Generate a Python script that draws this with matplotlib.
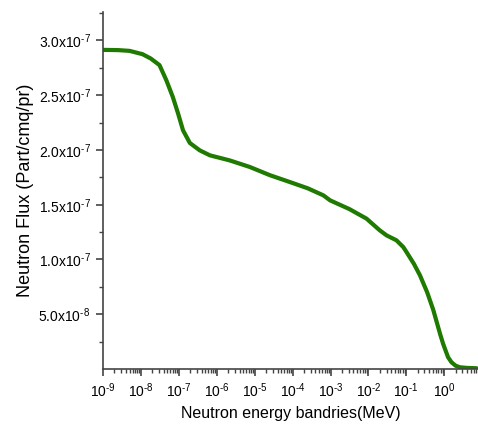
import numpy as np
import matplotlib
matplotlib.use('Agg')
import matplotlib.pyplot as plt
from matplotlib.ticker import FixedLocator, LogLocator, NullFormatter

plt.rcParams['font.family'] = ['Liberation Sans', 'DejaVu Sans']
plt.rcParams['mathtext.fontset'] = 'custom'
plt.rcParams['mathtext.rm'] = 'Liberation Sans'
plt.rcParams['mathtext.it'] = 'Liberation Sans'

# log10 of energy (MeV) and the flux at that energy
log_energy = [-9.0, -8.6, -8.3, -7.96, -7.74, -7.51, -7.33, -7.16, -7.02, -6.89,
              -6.71, -6.45, -6.18, -5.66, -5.13, -4.6, -4.07, -3.6, -3.19, -3.01,
              -2.5, -2.05, -1.7, -1.52, -1.26, -1.08, -0.99, -0.8, -0.64, -0.45,
              -0.29, -0.11, -0.03, 0.1, 0.19, 0.3, 0.41, 0.6, 0.85]
flux = [2.914e-7, 2.912e-7, 2.905e-7, 2.875e-7, 2.835e-7, 2.775e-7, 2.637e-7,
        2.485e-7, 2.333e-7, 2.18e-7, 2.064e-7, 1.997e-7, 1.951e-7, 1.905e-7,
        1.845e-7, 1.77e-7, 1.707e-7, 1.65e-7, 1.586e-7, 1.54e-7, 1.46e-7, 1.373e-7,
        1.266e-7, 1.22e-7, 1.175e-7, 1.113e-7, 1.065e-7, 0.96e-7, 0.855e-7, 0.70e-7,
        0.54e-7, 0.32e-7, 0.23e-7, 0.108e-7, 0.062e-7, 0.03e-7, 0.016e-7, 0.01e-7,
        0.007e-7]

energy = 10.0 ** np.array(log_energy)


def sup(base, exp):
    # hyphen instead of the math minus in the exponent
    sign = r'\text{-}' if exp < 0 else ''
    return r'$\mathregular{%s^{%s%d}}$' % (base, sign, abs(exp))


yticks = [5e-8, 1e-7, 1.5e-7, 2e-7, 2.5e-7, 3e-7]
ytick_labels = [sup('5.0x10', -8), sup('1.0x10', -7), sup('1.5x10', -7),
                sup('2.0x10', -7), sup('2.5x10', -7), sup('3.0x10', -7)]
xticks = [10.0 ** k for k in range(-9, 1)]
xtick_labels = [sup('10', k) for k in range(-9, 1)]

fig = plt.figure(figsize=(4.78, 4.24), dpi=100)
ax = fig.add_axes([0.2155, 0.1297, 0.7845, 0.842])

ax.plot(energy, flux, color='#1e7a00', lw=3.0, solid_capstyle='round',
        solid_joinstyle='round')

ax.set_xscale('log')
ax.set_xlim(1e-9, 10 ** 0.89)
ax.set_ylim(0, 3.26e-7)

ax.set_xticks(xticks)
ax.set_xticklabels(xtick_labels, fontsize=10)
ax.xaxis.set_minor_locator(LogLocator(base=10, subs=np.arange(2, 10), numticks=100))
ax.xaxis.set_minor_formatter(NullFormatter())

ax.set_yticks(yticks)
ax.set_yticklabels(ytick_labels, fontsize=10)
ax.yaxis.set_minor_locator(FixedLocator(np.arange(0.25e-7, 3.26e-7, 0.5e-7)))

ax.spines['top'].set_visible(False)
ax.spines['right'].set_visible(False)
for s in ('left', 'bottom'):
    ax.spines[s].set_color('#444444')
    ax.spines[s].set_linewidth(1.2)

ax.tick_params(which='major', direction='out', length=5, width=1.2, color='#444444', pad=4)
ax.tick_params(which='minor', direction='out', length=3, width=1.0, color='#444444')

ax.set_xlabel('Neutron energy bandries(MeV)', fontsize=11.5, labelpad=4)
ax.set_ylabel('Neutron Flux (Part/cmq/pr)', fontsize=13, labelpad=3)

fig.savefig('out.png', dpi=100)
